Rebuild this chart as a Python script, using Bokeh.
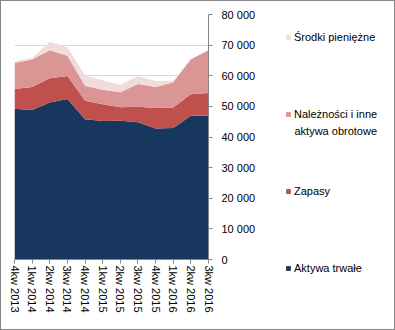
from bokeh.plotting import figure
from bokeh.layouts import row, column
from bokeh.models import (ColumnDataSource, Range1d, FixedTicker, Legend, LegendItem, Label)
from bokeh.embed import file_html
from bokeh.resources import INLINE

categories = ["4kw 2013", "1kw 2014", "2kw 2014", "3kw 2014", "4kw 2014", "1kw 2015",
              "2kw 2015", "3kw 2015", "4kw 2015", "1kw 2016", "2kw 2016", "3kw 2016"]
aktywa_trwale = [49200, 48800, 51300, 52400, 45800, 45200, 45300, 44800, 42800, 42900, 46900, 46900]
zapasy = [6500, 7500, 7900, 7500, 6000, 5500, 4400, 5100, 6700, 6700, 7100, 7500]
naleznosci = [8500, 9000, 9100, 6600, 4900, 4700, 4900, 7400, 6800, 8300, 11400, 13900]
srodki = [500, 500, 2800, 2800, 3400, 3100, 2500, 2600, 2000, 500, 100, 100]
series_names = ["Aktywa trwałe", "Zapasy", "Należności i inne", "Środki pieniężne"]
series_name_2nd_line = "aktywa obrotowe"
y_ticks = [0, 10000, 20000, 30000, 40000, 50000, 60000, 70000, 80000]
y_tick_labels = ["0", "10 000", "20 000", "30 000", "40 000", "50 000", "60 000", "70 000", "80 000"]

colors = ["#17375E", "#C0504D", "#D99694", "#F2DCDB"]
FONT = "Liberation Sans"
FS = "11px"

x = list(range(len(categories)))
source = ColumnDataSource(dict(x=x, a=aktywa_trwale, z=zapasy, n=naleznosci, s=srodki))

p = figure(width=284, height=328, output_backend="svg", toolbar_location=None,
           x_range=Range1d(0, len(categories) - 1), y_range=Range1d(0, 80000),
           y_axis_location="right",
           min_border_left=13, min_border_top=13, min_border_right=77, min_border_bottom=70)
p.outline_line_color = None
p.background_fill_color = "white"
p.border_fill_color = "white"

p.varea_stack(stackers=["a", "z", "n", "s"], x="x", color=colors, source=source)

p.xgrid.grid_line_color = None
p.ygrid.grid_line_color = "#D9D9D9"
p.ygrid.ticker = FixedTicker(ticks=y_ticks)

p.yaxis.ticker = FixedTicker(ticks=y_ticks)
p.yaxis.major_label_overrides = {t: l for t, l in zip(y_ticks, y_tick_labels)}
p.xaxis.ticker = FixedTicker(ticks=x)
p.xaxis.major_label_overrides = {i: c for i, c in zip(x, categories)}
p.xaxis.major_label_orientation = "vertical"

for ax in (p.xaxis[0], p.yaxis[0]):
    ax.axis_line_color = "#868686"
    ax.major_tick_line_color = "#868686"
    ax.major_tick_in = 0
    ax.major_tick_out = 4
    ax.minor_tick_line_color = None
    ax.major_label_text_font = FONT
    ax.major_label_text_font_size = FS
    ax.major_label_text_color = "#000000"
p.yaxis.major_label_standoff = 9
p.xaxis.major_label_standoff = 2

# legend panel: a separate figure whose frame fills it
q = figure(width=109, height=328, output_backend="svg", toolbar_location=None,
           x_range=Range1d(100, 101), y_range=Range1d(0, 80000),
           x_axis_location=None, y_axis_location=None,
           min_border_left=0, min_border_right=0, min_border_top=0, min_border_bottom=0)
q.outline_line_color = None
q.grid.grid_line_color = None
q.border_fill_color = "white"
proxies = q.varea_stack(stackers=["a", "z", "n", "s"], x="x", color=colors, source=source)

items = [LegendItem(label=series_names[i], renderers=[proxies[i]]) for i in [3, 2, 1, 0]]
legend = Legend(items=items, location=(0, 54), orientation="vertical",
                padding=0, margin=0, border_line_color=None, background_fill_alpha=0,
                glyph_width=6, glyph_height=6, label_height=14, spacing=63,
                label_standoff=3, label_text_font=FONT, label_text_font_size=FS,
                label_text_color="#000000")
q.add_layout(legend, "center")
q.add_layout(Label(x=9, y=199, x_units="screen", y_units="screen", text=series_name_2nd_line,
                   text_font=FONT, text_font_size=FS, text_color="#000000",
                   text_baseline="middle"))

layout = row(p, column(q, spacing=0), spacing=0, styles={"border": "1px solid #868686"})
open("out.html", "w").write(file_html(layout, INLINE))
